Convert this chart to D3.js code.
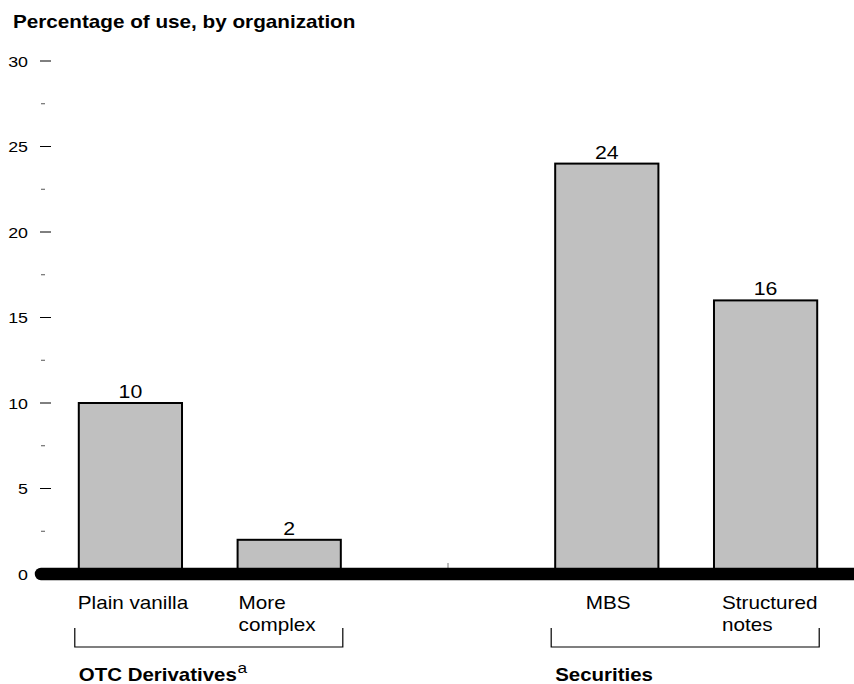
<!DOCTYPE html>
<html>
<head>
<meta charset="utf-8">
<script src="https://cdn.jsdelivr.net/npm/d3@7"></script>
<style>
  html, body { margin: 0; padding: 0; background: #fff; }
  svg { display: block; font-family: "Liberation Sans", Arial, sans-serif; }
</style>
</head>
<body>
<svg id="chart" width="854" height="684"></svg>
<script>
// Category slots along the x axis; the empty slot separates the two groups
const slots = ["Plain vanilla", "More complex", "", "MBS", "Structured notes"];
const categories = ["Plain vanilla", "More complex", "MBS", "Structured notes"];
const values = [10, 2, 24, 16];
const valueLabels = ["10", "2", "24", "16"];
const categoryLines = [["Plain vanilla"], ["More", "complex"], ["MBS"], ["Structured", "notes"]];
const groups = ["OTC Derivatives", "Securities"];
const groupMembers = [["Plain vanilla", "More complex"], ["MBS", "Structured notes"]];
const groupNotes = ["a", ""];
const majorTicks = [0, 5, 10, 15, 20, 25, 30];
const minorTicks = [2.5, 7.5, 12.5, 17.5, 22.5, 27.5];
const title = "Percentage of use, by organization";

const svg = d3.select("#chart");

// The typeface is set slightly wide: every label is stretched horizontally
const WIDE = 1.15;
function wideText(parent, x, y, size, anchor) {
  return parent.append("text")
    .attr("transform", `translate(${x},${y}) scale(${WIDE},1)`)
    .attr("font-size", size)
    .attr("text-anchor", anchor || "start");
}

const y = d3.scaleLinear().domain([0, 30]).range([574, 61]);
const x = d3.scaleBand().domain(slots).range([51, 845]).paddingInner(0.35).paddingOuter(0.175);

// Title
wideText(svg, 13, 28, 18).attr("font-weight", "bold").text(title);

// Y axis: major ticks with labels, minor ticks between them
const yAxis = svg.append("g");
yAxis.selectAll("line.major").data(majorTicks).join("line")
  .attr("class", "major")
  .attr("x1", 40).attr("x2", 51)
  .attr("y1", d => y(d)).attr("y2", d => y(d))
  .attr("stroke", "#000").attr("stroke-width", 1);
yAxis.selectAll("line.minor").data(minorTicks).join("line")
  .attr("class", "minor")
  .attr("x1", 41).attr("x2", 45)
  .attr("y1", d => y(d)).attr("y2", d => y(d))
  .attr("stroke", "#555").attr("stroke-width", 1);
majorTicks.forEach(d => {
  wideText(yAxis, 28, y(d) + 5.5, 15.5, "end").text(d);
});

// Small tick marks at each slot centre along the baseline
svg.append("g").selectAll("line").data(slots).join("line")
  .attr("x1", d => x(d) + x.bandwidth() / 2)
  .attr("x2", d => x(d) + x.bandwidth() / 2)
  .attr("y1", y(0) - 11).attr("y2", y(0))
  .attr("stroke", "#777").attr("stroke-width", 1);

// Bars
const bars = svg.append("g");
bars.selectAll("rect").data(categories).join("rect")
  .attr("x", d => x(d))
  .attr("y", (d, i) => y(values[i]))
  .attr("width", x.bandwidth())
  .attr("height", (d, i) => y(0) - y(values[i]))
  .attr("fill", "#c0c0c0")
  .attr("stroke", "#000")
  .attr("stroke-width", 2);

// Value labels above bars
categories.forEach((c, i) => {
  wideText(bars, x(c) + x.bandwidth() / 2, y(values[i]) - 5, 18.5, "middle").text(valueLabels[i]);
});

// Thick baseline with rounded left end
svg.append("line")
  .attr("x1", 41).attr("x2", 870)
  .attr("y1", y(0)).attr("y2", y(0))
  .attr("stroke", "#000").attr("stroke-width", 12.5)
  .attr("stroke-linecap", "round");

// Category labels placed under each bar
const labelOffsets = [-1, 1, 53, 8];
const labelAnchors = ["start", "start", "middle", "start"];
const catLabels = svg.append("g");
categories.forEach((c, i) => {
  const t = wideText(catLabels, x(c) + labelOffsets[i], 609, 18, labelAnchors[i]);
  categoryLines[i].forEach((line, j) => {
    t.append("tspan")
      .attr("x", 0)
      .attr("dy", j === 0 ? 0 : 22.5)
      .text(line);
  });
});

// Group brackets and group labels
const bracketTop = 628, bracketBottom = 647;
groups.forEach((g, i) => {
  const first = groupMembers[i][0];
  const last = groupMembers[i][groupMembers[i].length - 1];
  const x0 = x(first) - 4;
  const x1 = x(last) + x.bandwidth() + 2;
  svg.append("path")
    .attr("d", `M${x0},${bracketTop}V${bracketBottom}H${x1}V${bracketTop}`)
    .attr("fill", "none")
    .attr("stroke", "#000")
    .attr("stroke-width", 1.2);
  const t = wideText(svg, x(first), 681, 17.8).attr("font-weight", "bold").text(g);
  if (groupNotes[i]) {
    t.append("tspan")
      .attr("dx", 0.5).attr("dy", -8)
      .attr("font-size", 15).attr("font-weight", "normal")
      .text(groupNotes[i]);
  }
});
</script>
</body>
</html>
